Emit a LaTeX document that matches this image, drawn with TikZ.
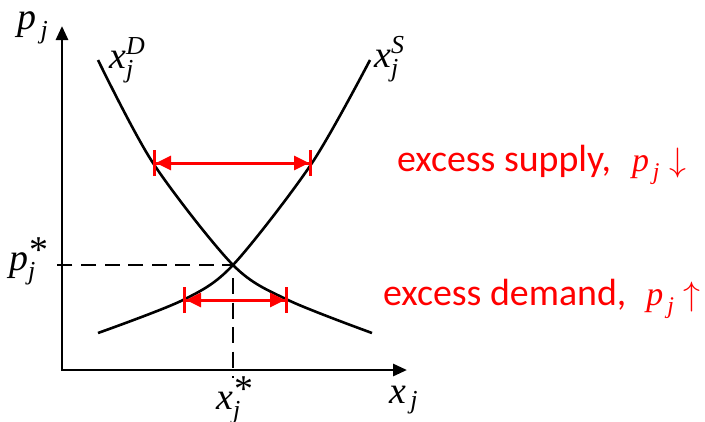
\RequirePackage{fix-cm}
\documentclass[tikz,border=0pt]{standalone}
\usepackage{fontspec}
\setmainfont{Carlito}
\newfontfamily\tms{Liberation Serif}
\usetikzlibrary{arrows.meta}
\newcommand\ti[1]{\mbox{\tms\itshape #1}}
\newcommand\tis[2][26]{\mbox{\tms\itshape\fontsize{#1}{#1}\selectfont #2}}
\newcommand\tast{\mbox{\kern1bp\smash{\raisebox{-6.5bp}{\tms\fontsize{38}{38}\selectfont *}}}}
\begin{document}
\begin{tikzpicture}[x=1bp,y=-1bp,
  every node/.style={inner sep=0pt},
  mlabel/.style={font=\fontsize{38}{42}\selectfont, anchor=base west},
  tlabel/.style={font=\fontsize{38}{42}\selectfont, anchor=base west, text=red},
  axisline/.style={line width=2.8bp, line join=miter,
    {Triangle[length=14bp,width=12bp]}-{Triangle[length=14bp,width=12bp]}},
  curveline/.style={line width=2.6bp},
  guideline/.style={line width=2.6bp, dash pattern=on 15bp off 8.5bp},
  excessline/.style={red, line width=3bp,
    {Bar[width=26bp]Triangle[length=15bp,width=14bp]}-{Triangle[length=15bp,width=14bp]Bar[width=26bp]}}]
\useasboundingbox (0,0) rectangle (705,421);

% axes
\coordinate (O) at (62,370);
\coordinate (ytop) at (62,26);
\coordinate (xend) at (407,370);
\draw[axisline] (ytop) -- (O) -- (xend);

% equilibrium
\coordinate (E) at (233,265);
\coordinate (Eh) at (56,265);
\coordinate (Ev0) at (233,278);
\coordinate (Ev) at (233,378);
\draw[guideline, dash phase=4bp] (E) -- (Eh);
\draw[guideline, dash pattern=on 16bp off 8.5bp] (Ev0) -- (Ev);

% curves
\draw[curveline] plot[smooth] coordinates {(98,60) (153,163) (233,265) (288,300) (372,333)};
\draw[curveline] plot[smooth] coordinates {(98,333) (183,300) (233,265) (312,163) (370,60)};

% excess arrows
\coordinate (sL) at (153,163);
\coordinate (sR) at (312,163);
\coordinate (dL) at (183,300);
\coordinate (dR) at (288,300);
\draw[excessline] (sL) -- (sR);
\draw[excessline] (dL) -- (dR);

% labels
\node[mlabel] (lpj) at (17,29) {$\ti{p}_{\,\tis{j}}$};
\node[mlabel] (lxd) at (109,68) {$\ti{x}^{\tis{D}}_{\tis{j}}$};
\node[mlabel] (lxs) at (374,67) {$\ti{x}^{\tis{S}}_{\tis{j}}$};
\node[mlabel] (lps) at (9,270) {$\ti{p}^{\tast}_{\tis{j}}$};
\node[mlabel] (lxst) at (216,409) {$\ti{x}^{\tast}_{\tis{j}}$};
\node[mlabel] (lxj) at (389,403) {$\ti{x}_{\,\tis{j}}$};

\node[tlabel] (ls) at (397,171) {excess supply,\hspace{21bp}{\fontsize{34}{38}\selectfont$\ti{p}_{\,\tis[24]{j}}\downarrow$}};
\node[tlabel] (ld) at (383,305) {excess demand,\hspace{20bp}{\fontsize{34}{38}\selectfont$\ti{p}_{\,\tis[24]{j}}\uparrow$}};
\end{tikzpicture}
\end{document}
